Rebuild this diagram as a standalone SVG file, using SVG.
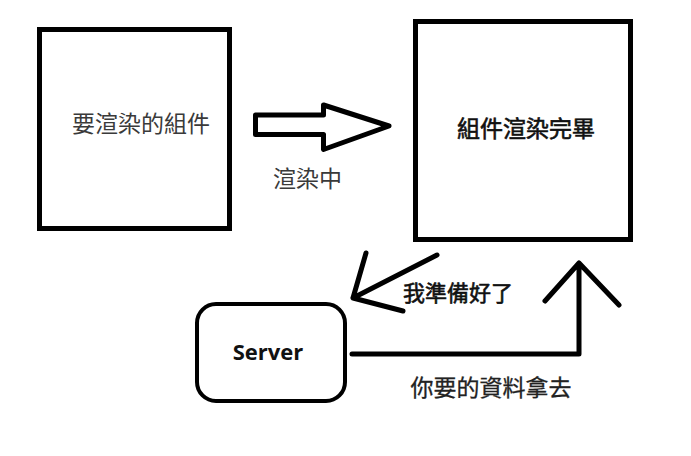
<svg xmlns="http://www.w3.org/2000/svg" width="691" height="456" viewBox="0 0 691 456">
  <style>
    .box { fill: #ffffff; stroke: #000000; stroke-width: 5; }
    .ln { fill: none; stroke: #000000; stroke-width: 5; stroke-linecap: round; stroke-linejoin: round; }
    .cjk { font-family: "Noto Sans CJK TC", "Noto Sans CJK SC", sans-serif; font-size: 23px; }
    .light { fill: #3a3a3a; font-weight: 400; }
    .med { fill: #111111; font-weight: 400; stroke: #111111; stroke-width: 0.6; }
    .srv { font-family: "Open Sans", "Noto Sans", sans-serif; font-size: 22px; font-weight: 700; fill: #111111; }
  </style>
  <rect width="691" height="456" fill="#ffffff"/>

  <g id="node-component">
    <rect class="box" x="39.5" y="29.5" width="190" height="199"/>
    <text class="cjk light" x="141" y="132" text-anchor="middle">要渲染的組件</text>
  </g>

  <g id="node-rendered">
    <rect class="box" x="415.5" y="21.5" width="215" height="218"/>
    <text class="cjk med" x="526" y="137" text-anchor="middle">組件渲染完畢</text>
  </g>

  <g id="node-server">
    <rect class="box" x="197" y="304" width="148" height="97" rx="19" ry="19" style="stroke-width:4"/>
    <text class="srv" x="268" y="360" text-anchor="middle">Server</text>
  </g>

  <g id="connectors">
    <polygon class="ln" points="255.5,115 323.5,115 323.5,105 389,126 323.5,149.5 323.5,134.5 255.5,134.5"/>
    <text class="cjk light" x="307.5" y="187" text-anchor="middle">渲染中</text>

    <path class="ln" d="M437,255 L353,298 M366,253 L353,298 L403,311"/>
    <text class="cjk med" x="458" y="301" text-anchor="middle" style="font-size:22px">我準備好了</text>

    <path class="ln" d="M352,354 L579,354 L579,263 M545,301 L579,263 L619,305"/>
    <text class="cjk med" x="491" y="396" text-anchor="middle" style="stroke-width:0.3;fill:#222;stroke:#222">你要的資料拿去</text>
  </g>
</svg>
